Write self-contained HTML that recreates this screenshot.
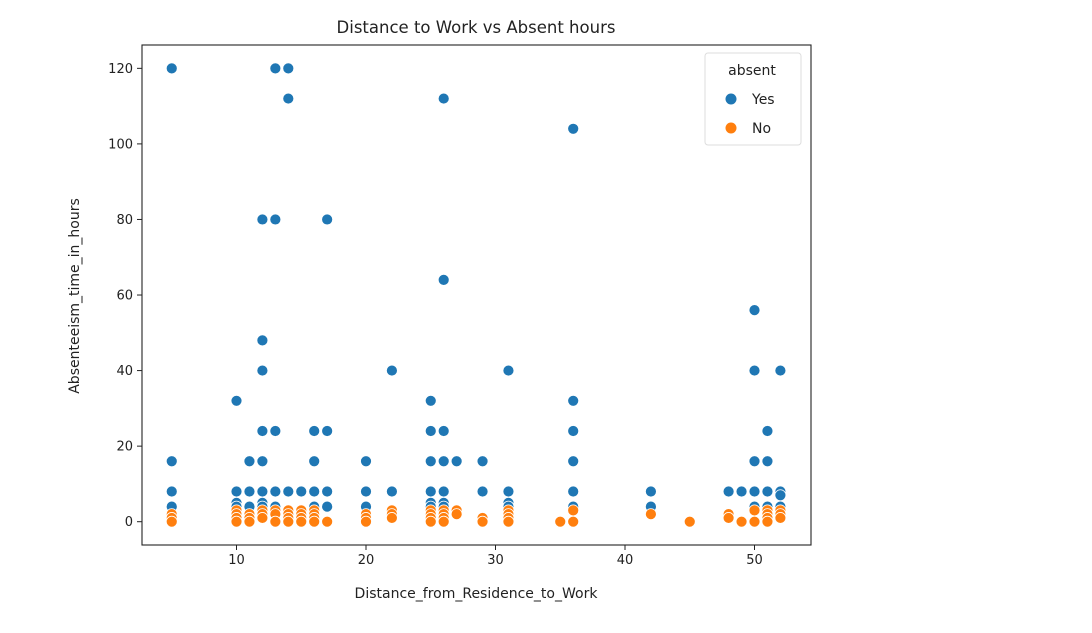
<!DOCTYPE html>
<html><head><meta charset="utf-8"><style>
body{margin:0;background:#fff;font-family:"DejaVu Sans","Liberation Sans",sans-serif}
</style></head><body>
<svg id="chart" width="1092" height="629" font-family="DejaVu Sans, Liberation Sans, sans-serif">
<rect width="1092" height="629" fill="#fff"/>
<text x="476" y="33" text-anchor="middle" font-size="16.5" fill="#222">Distance to Work vs Absent hours</text>
<g id="marks"></g>
<rect x="142" y="45" width="669" height="500" fill="none" stroke="#222" stroke-width="1.1"/>
<g id="axes"></g>
<text x="476" y="598" text-anchor="middle" font-size="14" fill="#222">Distance_from_Residence_to_Work</text>
<text transform="translate(79,296) rotate(-90)" text-anchor="middle" font-size="14" fill="#222">Absenteeism_time_in_hours</text>
<g>
<rect x="705" y="53" width="96" height="92" rx="3" fill="#fff" stroke="#ddd"/>
<text x="752" y="75" text-anchor="middle" font-size="14" fill="#222">absent</text>
<circle cx="731" cy="99" r="5.5" fill="#1f77b4"/>
<text x="752" y="104" font-size="14" fill="#222">Yes</text>
<circle cx="731" cy="128" r="5.5" fill="#ff7f0e"/>
<text x="752" y="133" font-size="14" fill="#222">No</text>
</g>
</svg>
<script>
const distances=[5,10,11,12,13,14,15,16,17,20,22,25,26,27,29,31,35,36,42,45,48,49,50,51,52];
const yesHours=[[120,16,8,4],[32,8,5,4],[16,8,4],[80,48,40,24,16,8,5,4],[120,80,24,8,4],[120,112,8],[8],[24,16,8,4],[80,24,8,4],[16,8,4],[40,8],[32,24,16,8,5,4],[112,64,24,16,8,5,4],[16],[16,8],[40,8,5,4],[],[104,32,24,16,8,4],[8,4],[],[8],[8],[56,40,16,8,4],[24,16,8,4],[40,8,7,4]];
const noHours=[[2,1,0],[3,2,1,0],[2,1,0],[3,2,1],[3,2,0],[3,2,1,0],[3,2,1,0],[3,2,1,0],[0],[2,1,0],[3,2,1],[3,2,1,0],[3,2,1,0],[3,2],[1,0],[3,2,1,0],[0],[3,0],[2],[0],[2,1],[0],[3,0],[3,2,1,0],[3,2,1]];
const xTicks=[10,20,30,40,50];
const yTicks=[0,20,40,60,80,100,120];
const X=v=>107+v*12.95, Y=v=>521.7-v*3.778;
const NS='http://www.w3.org/2000/svg';
const marks=document.getElementById('marks'), axes=document.getElementById('axes');
function dot(x,y,c,name){const e=document.createElementNS(NS,'circle');e.setAttribute('cx',x);e.setAttribute('cy',y);e.setAttribute('r',5.5);e.setAttribute('fill',c);e.setAttribute('stroke','#fff');e.setAttribute('stroke-width','0.8');


marks.appendChild(e);}
distances.forEach((d,i)=>{yesHours[i].forEach(h=>dot(X(d),Y(h),'#1f77b4','point-yes'));});
distances.forEach((d,i)=>{noHours[i].forEach(h=>dot(X(d),Y(h),'#ff7f0e','point-no'));});
function el(tag,attrs,txt){const e=document.createElementNS(NS,tag);for(const k in attrs)e.setAttribute(k,attrs[k]);if(txt!==undefined)e.textContent=txt;axes.appendChild(e);return e;}
xTicks.forEach(t=>{const l=el('line',{x1:X(t),x2:X(t),y1:545,y2:550,stroke:'#222'});


const tx=el('text',{x:X(t),y:564,'text-anchor':'middle','font-size':13,fill:'#222'},t);

});
yTicks.forEach(t=>{const l=el('line',{x1:137,x2:142,y1:Y(t),y2:Y(t),stroke:'#222'});


const tx=el('text',{x:133,y:Y(t)+4.5,'text-anchor':'end','font-size':13,fill:'#222'},t);

});
</script>
</body></html>
